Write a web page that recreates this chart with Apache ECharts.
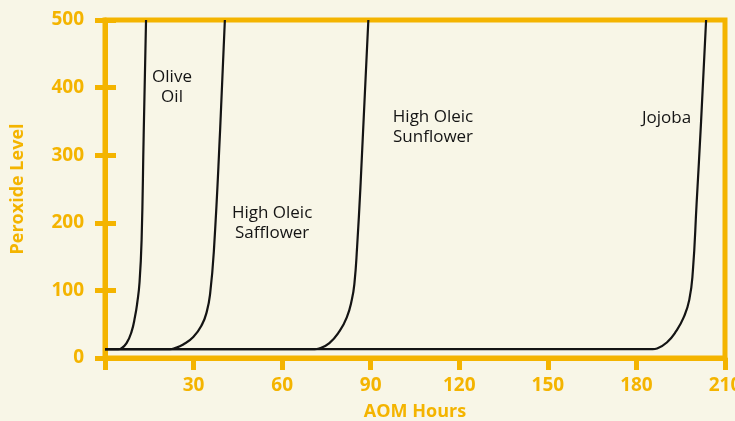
<!DOCTYPE html>
<html>
<head>
<meta charset="utf-8">
<script src="https://cdn.jsdelivr.net/npm/echarts@6/dist/echarts.min.js"></script>
<style>
html, body { margin: 0; padding: 0; background: #F8F6E7; }
#main { width: 735px; height: 421px; }
</style>
</head>
<body>
<div id="main"></div>
<script>
var myChart = echarts.init(document.getElementById('main'));

// AOM hours / peroxide level
var oliveHours = [0, 4.5, 5.5, 7.3, 9.0, 10.2, 10.9, 11.7, 12.4, 13.1, 13.9];
var oliveLevels = [13, 13, 14, 22, 39, 62, 81, 112, 175, 330, 500];

var saffHours = [0, 22, 23.3, 26.5, 29.9, 32.8, 34.5, 35.6, 36.9, 39.0, 40.6];
var saffLevels = [13, 13, 14, 20, 31, 49, 69, 95, 160, 338, 500];

var sunHours = [0, 71, 72.5, 76, 79.5, 81.9, 83.6, 84.5, 85.4, 86.6, 89.2];
var sunLevels = [13, 13, 14, 22, 40, 60, 86, 111, 165, 260, 500];

var jojobaHours = [0, 185.5, 187, 190.3, 193.5, 196.0, 197.9, 199.1, 200.4, 201.9, 203.6];
var jojobaLevels = [13, 13, 14, 23, 40, 60, 86, 128, 230, 350, 500];

var yellow = '#F4B400';
var ink = '#141414';

function pairs(xs, ys) {
    var out = [];
    for (var i = 0; i < xs.length; i++) {
        out.push([xs[i], ys[i]]);
    }
    return out;
}

function curve(name, xs, ys, labelText, at) {
    return {
        name: name,
        type: 'line',
        data: pairs(xs, ys),
        showSymbol: false,
        smooth: 0.5,
        lineStyle: { color: ink, width: 2.2 },
        markPoint: {
            symbol: 'circle',
            symbolSize: 0,
            itemStyle: { color: 'transparent' },
            label: {
                show: true,
                position: 'inside',
                formatter: labelText,
                color: ink,
                fontFamily: 'Open Sans',
                fontSize: 17,
                lineHeight: 20,
                align: 'center'
            },
            data: [{ coord: at }]
        }
    };
}

myChart.setOption({
    backgroundColor: '#F8F6E7',
    animation: false,
    grid: {
        left: 105, right: 10, top: 20, bottom: 63,
        outerBoundsMode: 'none',
        containLabel: false,
        show: true,
        borderColor: yellow,
        borderWidth: 5
    },
    xAxis: {
        type: 'value',
        min: 0, max: 210, interval: 30,
        name: 'AOM Hours',
        nameLocation: 'middle',
        nameGap: 45,
        nameTextStyle: { color: yellow, fontFamily: 'Open Sans', fontWeight: 'bold', fontSize: 18 },
        axisLine: { lineStyle: { color: yellow, width: 5 } },
        axisTick: { length: 12, lineStyle: { color: yellow, width: 5 } },
        axisLabel: {
            color: yellow, fontFamily: 'Open Sans', fontWeight: 'bold', fontSize: 19, margin: 18,
            hideOverlap: false,
            formatter: function (v) { return v === 0 ? '' : String(v); }
        },
        splitLine: { show: false }
    },
    yAxis: [
        {
            type: 'value',
            position: 'left',
            min: 0, max: 500, interval: 100,
            name: 'Peroxide Level',
            nameLocation: 'middle',
            nameGap: 78,
            nameTextStyle: { color: yellow, fontFamily: 'Open Sans', fontWeight: 'bold', fontSize: 18 },
            axisLine: { show: true, lineStyle: { color: yellow, width: 5 } },
            axisTick: { show: true, length: 10, lineStyle: { color: yellow, width: 5 } },
            axisLabel: { color: yellow, fontFamily: 'Open Sans', fontWeight: 'bold', fontSize: 19, margin: 21 },
            splitLine: { show: false }
        },
        {
            type: 'value',
            position: 'left',
            min: 0, max: 500, interval: 100,
            axisLine: { show: false },
            axisTick: { show: true, inside: true, length: 11, lineStyle: { color: yellow, width: 5 } },
            axisLabel: { show: false },
            splitLine: { show: false }
        }
    ],
    series: [
        curve('Olive Oil', oliveHours, oliveLevels, 'Olive\nOil', [22.7, 401]),
        curve('High Oleic Safflower', saffHours, saffLevels, 'High Oleic\nSafflower', [56.6, 200]),
        curve('High Oleic Sunflower', sunHours, sunLevels, 'High Oleic\nSunflower', [111.1, 341]),
        curve('Jojoba', jojobaHours, jojobaLevels, 'Jojoba', [190.2, 355])
    ]
});
</script>
</body>
</html>
